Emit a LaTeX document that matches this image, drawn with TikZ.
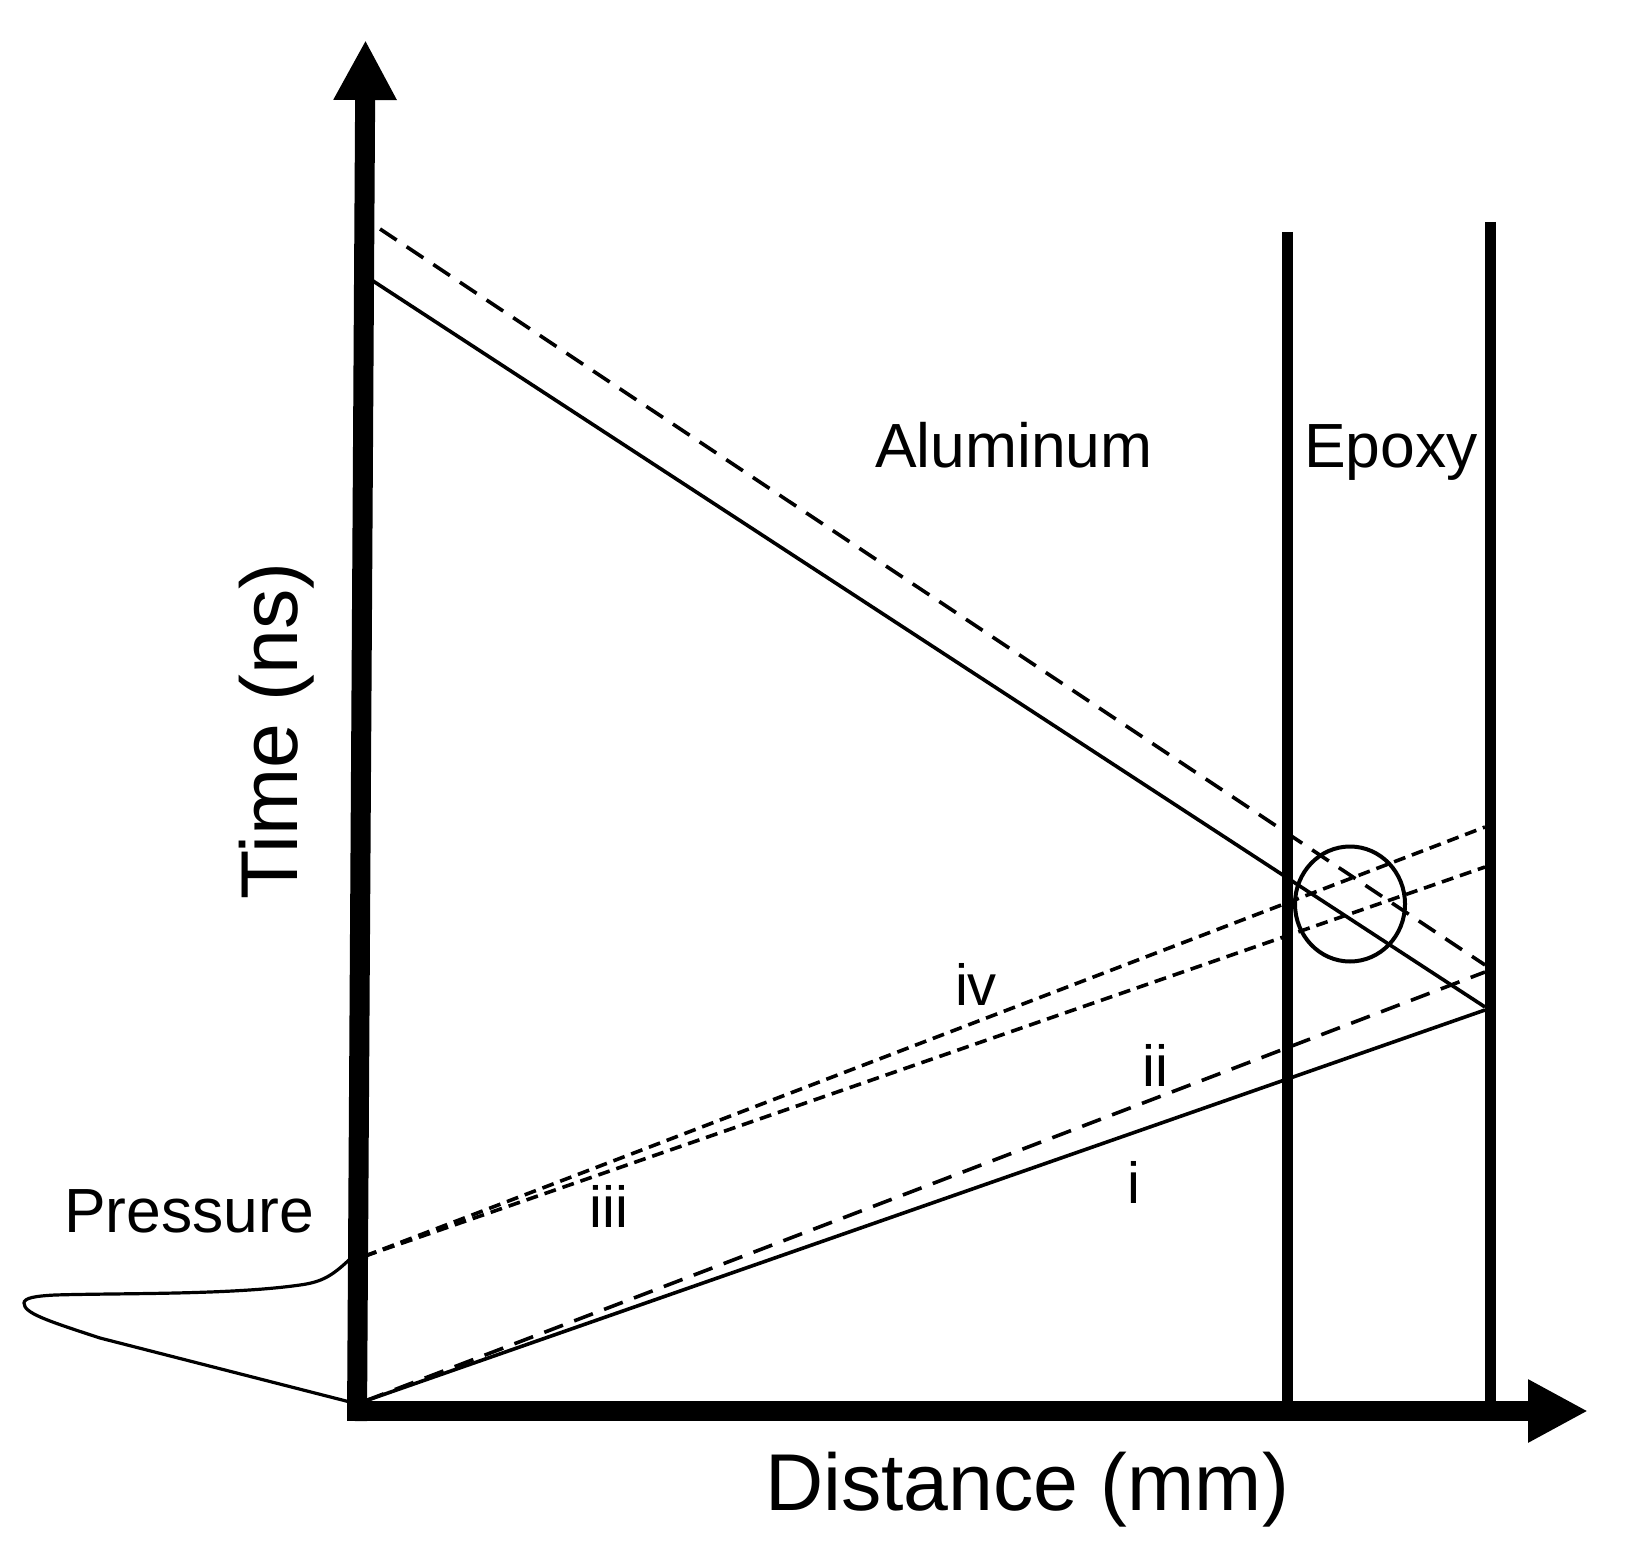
\documentclass[tikz,border=0pt]{standalone}
\usepackage{fontspec}
\setmainfont{Liberation Sans}
\usetikzlibrary{shapes}
\usetikzlibrary{arrows.meta}
\tikzset{
	textnode/.style = {
		align=center,
		inner sep=0pt,
		anchor=base
	},
	node_mat/.style = {
		textnode,
		font=\fontsize{31.2pt}{31.2pt}\selectfont
	},
	node_axis/.style = {
		textnode,
		font=\fontsize{40.3pt}{40.3pt}\selectfont
	},
	node_ray/.style = {
		textnode,
		font=\fontsize{29pt}{29pt}\selectfont
	},
	node_ring/.style = {
		ellipse,
		draw=black,
		line width=2pt,
		inner sep=0pt,
		minimum width=55pt,
		minimum height=57.5pt
	},
	line_axis/.style = {
		line width=10pt,
		-{Triangle[width=29.5pt,length=30pt]}
	},
	line_wall/.style = {
		line width=5.5pt
	},
	line_ray/.style = {
		line width=1.8pt
	},
	line_dash/.style = {
		line_ray,
		dash pattern=on 10pt off 6pt
	},
	line_fine/.style = {
		line_ray,
		dash pattern=on 6pt off 3.5pt
	},
}
\begin{document}
\begin{tikzpicture}[x=0.5pt,y=-0.5pt]
\useasboundingbox (0,0) rectangle (1627,1551);
% axes
\coordinate (y_low) at (357,1421);
\coordinate (y_tip) at (365.5,40);
\coordinate (x_low) at (347,1411);
\coordinate (x_tip) at (1588,1411);
% walls
\coordinate (wall_a_top) at (1287.5,232);
\coordinate (wall_a_low) at (1287.5,1405);
\coordinate (wall_b_top) at (1490.5,222);
\coordinate (wall_b_low) at (1490.5,1405);
% ray ends
\coordinate (src_low) at (365,1401);
\coordinate (src_high) at (365,1256);
\coordinate (hit_i) at (1485,1010);
\coordinate (hit_ii) at (1485,972);
\coordinate (hit_iii) at (1485,867);
\coordinate (hit_iv) at (1485,827);
\coordinate (back_s_a) at (370,279);
\coordinate (back_s_b) at (1485,1007);
\coordinate (back_d_a) at (380,229);
\coordinate (back_d_b) at (1485,965);

\draw [line_wall] (wall_a_top) -- (wall_a_low);
\draw [line_wall] (wall_b_top) -- (wall_b_low);
\draw [line_ray] (src_low) -- (hit_i);
\draw [line_dash] (src_low) -- (hit_ii);
\draw [line_fine] (src_high) -- (hit_iii);
\draw [line_fine] (src_high) -- (hit_iv);
\draw [line_ray] (back_s_a) -- (back_s_b);
\draw [line_dash] (back_d_a) -- (back_d_b);
\draw [line_axis] (y_low) -- (y_tip);
\draw [line_axis] (x_low) -- (x_tip);

% pressure pulse
\coordinate (pulse_a) at (350,1259);
\coordinate (pulse_b) at (24,1303);
\coordinate (pulse_c) at (350,1402);
\draw [line_ray, line width=1.6pt] (pulse_a) .. controls (332,1276) and (322,1282) .. (300,1285)
	.. controls (230,1295) and (120,1293) .. (55,1295)
	.. controls (35,1296) and (24,1298) .. (pulse_b)
	.. controls (24,1313) and (45,1320) .. (100,1338)
	-- (pulse_c);

\node [node_ring] (ring) at (1350,904) {};

\node [node_mat] (aluminum) at (1014,467) {Aluminum};
\node [node_mat] (epoxy) at (1391,467) {Epoxy};
\node [node_mat] (pressure) at (189,1232) {Pressure};
\node [node_axis] (distance) at (1027,1510) {Distance (mm)};
\node [node_axis, rotate=90] (time) at (297,731) {Time (ns)};
\node [node_ray] (ray_i) at (1134,1203) {i};
\node [node_ray] (ray_ii) at (1155,1086) {ii};
\node [node_ray] (ray_iii) at (609,1227) {iii};
\node [node_ray] (ray_iv) at (976,1005) {iv};
\end{tikzpicture}
\end{document}
